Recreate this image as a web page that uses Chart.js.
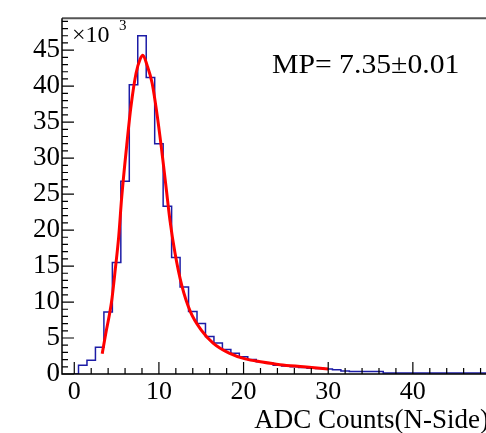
<!DOCTYPE html>
<html lang="en">
<head>
  <meta charset="UTF-8" />
  <title>ADC Counts (N-Side)</title>
  <style>
    html, body {
      margin: 0;
      padding: 0;
      background: #ffffff;
      overflow: hidden;
    }
    #wrap {
      width: 486px;
      height: 433px;
      overflow: hidden;
    }
  </style>
</head>
<body>
  <div id="wrap">
    <canvas id="chart" width="510" height="433"></canvas>
  </div>

  <script src="https://cdn.jsdelivr.net/npm/chart.js"></script>
  <script>
    // histogram, one bin per ADC count, values in units of 10^3
    const counts = [
      0, 1.2, 1.9, 3.7, 8.6, 15.5, 26.8, 40.2, 47.0, 41.2,
      32.0, 23.3, 16.2, 12.1, 8.7, 7.0, 5.2, 4.3, 3.4, 2.9,
      2.4, 2.0, 1.7, 1.5, 1.2, 1.1, 1.0, 0.9, 0.8, 0.75,
      0.7, 0.6, 0.4, 0.35, 0.35, 0.35, 0.35, 0.15, 0.15, 0.15,
      0.15, 0.15, 0.15, 0.15, 0.15, 0.15, 0.15, 0.15, 0.15, 0.15,
      0.15
    ];
    const binCenters = counts.map((_, i) => i);

    // landau fit
    const fitX = [3.3, 3.7, 4.4, 4.85, 5.25, 5.6, 6.2, 6.7, 7.3, 7.8, 8.1, 8.6, 9.2, 9.8,
                  10.4, 10.9, 11.3, 11.9, 12.7, 13.7, 15.0, 16.4, 18.3, 20.2, 22.2, 24.3, 27.1, 30.0];
    const fitY = [2.8, 5.5, 10.0, 14.6, 19.1, 24.5, 31.8, 37.2, 41.8, 43.8, 44.3, 42.9, 40.4, 35.9,
                  30.4, 25.4, 21.4, 16.8, 12.3, 8.7, 6.1, 4.3, 2.9, 2.1, 1.67, 1.3, 1.0, 0.68];

    const xTickLabels = [0, 10, 20, 30, 40];
    const yTickLabels = [0, 5, 10, 15, 20, 25, 30, 35, 40, 45];

    const serif = '"Liberation Serif", "DejaVu Serif", serif';

    // ROOT style frame: ticks inside, text labels
    const rootFrame = {
      id: 'rootFrame',
      afterDraw(chart) {
        const ctx = chart.ctx;
        const x = chart.scales.x, y = chart.scales.y;
        const a = chart.chartArea;
        ctx.save();

        // top frame line
        ctx.strokeStyle = '#555';
        ctx.lineWidth = 2;
        ctx.beginPath();
        ctx.moveTo(a.left, a.top);
        ctx.lineTo(a.right, a.top);
        ctx.stroke();

        // axes
        ctx.strokeStyle = '#000';
        ctx.lineWidth = 1.5;
        ctx.beginPath();
        ctx.moveTo(a.left, a.top);
        ctx.lineTo(a.left, a.bottom);
        ctx.lineTo(a.right, a.bottom);
        ctx.stroke();

        // y ticks every 1k, major every 5k
        ctx.lineWidth = 1.2;
        ctx.beginPath();
        for (let v = 0; v <= 49; v++) {
          const py = y.getPixelForValue(v);
          const len = v % 5 === 0 ? 12 : 6;
          ctx.moveTo(a.left, py);
          ctx.lineTo(a.left + len, py);
        }
        // x ticks every 2, major every 10
        for (let v = 0; v <= 50; v += 2) {
          const px = x.getPixelForValue(v);
          const len = v % 10 === 0 ? 12 : 6;
          ctx.moveTo(px, a.bottom);
          ctx.lineTo(px, a.bottom - len);
        }
        ctx.stroke();

        // texts
        ctx.fillStyle = '#000';
        ctx.textBaseline = 'alphabetic';
        ctx.textAlign = 'left';
        ctx.font = '24px ' + serif;
        ctx.fillText('\u00d710', 72, 42);
        ctx.font = '15px ' + serif;
        ctx.fillText('3', 119, 30);

        ctx.save();
        ctx.translate(272, 73);
        ctx.scale(1.1, 1);
        ctx.font = '27px ' + serif;
        ctx.fillText('MP= 7.35\u00b10.01', 0, 0);
        ctx.restore();

        ctx.font = '27px ' + serif;
        ctx.textAlign = 'right';
        ctx.fillText('ADC Counts(N-Side)', 489, 428);
        ctx.restore();
      }
    };

    new Chart(document.getElementById('chart').getContext('2d'), {
      type: 'line',
      data: {
        datasets: [
          {
            label: 'fit',
            data: fitX.map((v, i) => ({ x: v, y: fitY[i] })),
            borderColor: '#ff0000',
            borderWidth: 3,
            pointRadius: 0,
            cubicInterpolationMode: 'monotone',
            fill: false,
            order: 0
          },
          {
            label: 'hist',
            data: binCenters.map((v, i) => ({ x: v, y: counts[i] })),
            borderColor: '#1c1ca6',
            borderWidth: 1.5,
            pointRadius: 0,
            stepped: 'middle',
            fill: false,
            order: 1
          }
        ]
      },
      options: {
        responsive: false,
        animation: false,
        devicePixelRatio: 1,
        layout: { padding: { top: 10, right: 12.5, left: 0, bottom: 0 } },
        plugins: {
          legend: { display: false },
          tooltip: { enabled: false }
        },
        scales: {
          x: {
            type: 'linear',
            min: -1.45,
            max: 50,
            grid: { display: false, drawTicks: false },
            border: { display: false },
            afterBuildTicks: s => { s.ticks = xTickLabels.map(v => ({ value: v })); },
            afterFit: s => { s.height = 59; },
            ticks: {
              padding: 3,
              maxRotation: 0,
              autoSkip: false,
              color: '#000',
              font: { family: serif, size: 26 }
            }
          },
          y: {
            min: 0,
            max: 49.44,
            grid: { display: false, drawTicks: false },
            border: { display: false },
            afterBuildTicks: s => { s.ticks = yTickLabels.map(v => ({ value: v })); },
            afterFit: s => { s.width = 62; },
            ticks: {
              padding: 2,
              autoSkip: false,
              color: '#000',
              font: { family: serif, size: 27 }
            }
          }
        }
      },
      plugins: [rootFrame]
    });
  </script>
</body>
</html>
